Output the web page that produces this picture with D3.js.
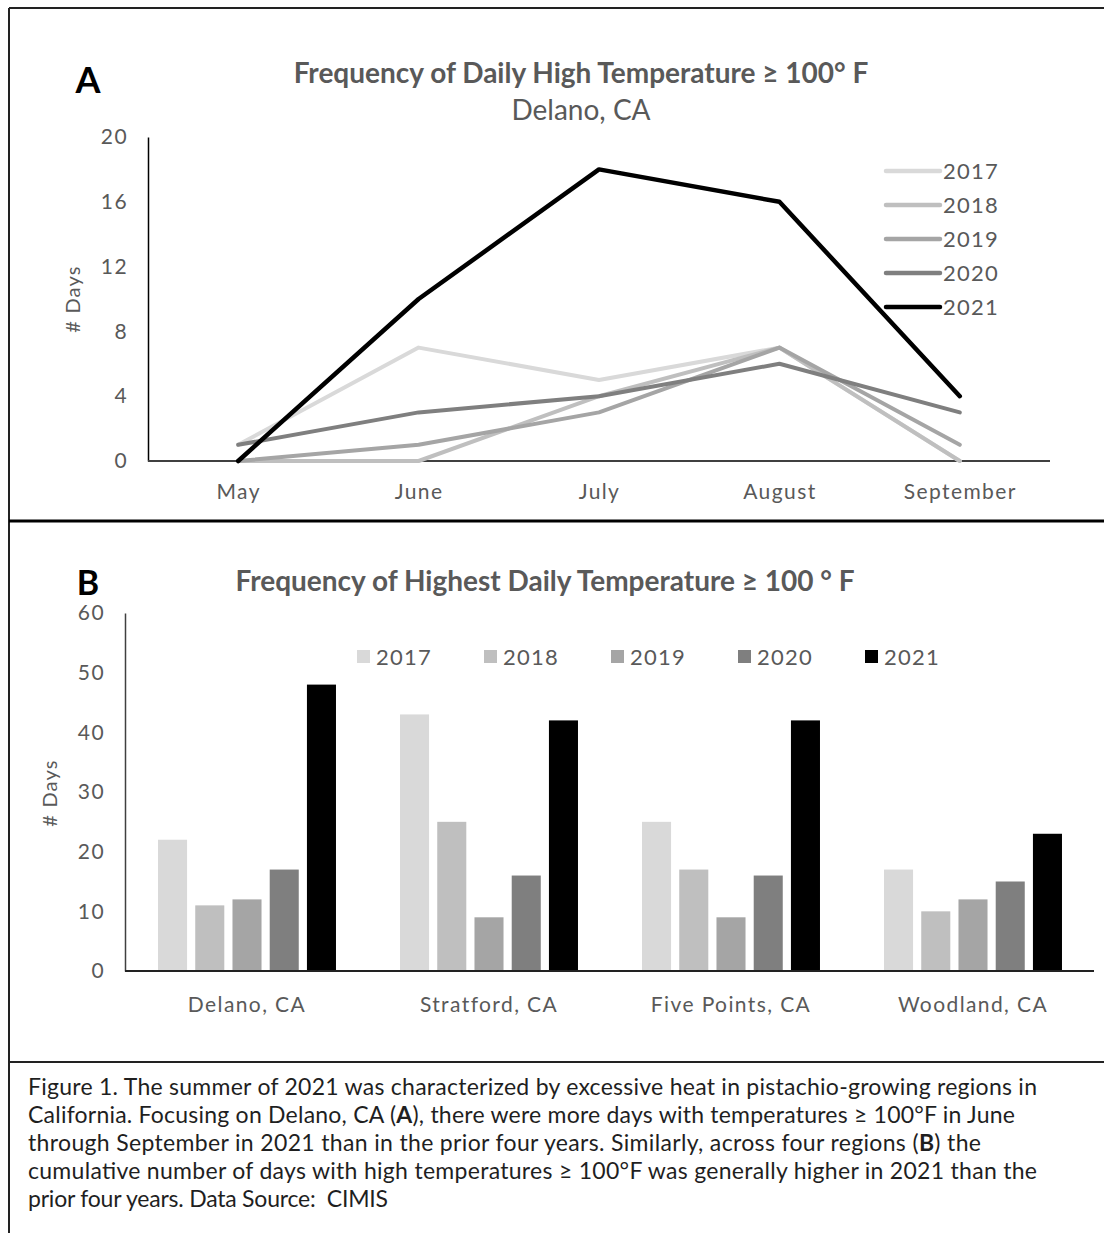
<!DOCTYPE html>
<html>
<head>
<meta charset="utf-8">
<script src="https://cdn.jsdelivr.net/npm/d3@7"></script>
<style>
  body { margin: 0; background: #fff; }
  svg { display: block; font-family: Lato, "Open Sans", sans-serif; }
  .tick text { fill: #595959; letter-spacing: 1.4px; }
  .cap text { white-space: pre; }
</style>
</head>
<body>
<svg width="1104" height="1233"></svg>
<script>
// panel A: days >= 100F per month, Delano
let months = ['May', 'June', 'July', 'August', 'September'];
let years = ['2017', '2018', '2019', '2020', '2021'];
let monthly = {
    '2017': [1, 7, 5, 7, 0],
    '2018': [0, 0, 4, 7, 0],
    '2019': [0, 1, 3, 7, 1],
    '2020': [1, 3, 4, 6, 3],
    '2021': [0, 10, 18, 16, 4]
};

// panel B: cumulative days per region
let regions = ['Delano, CA', 'Stratford, CA', 'Five Points, CA', 'Woodland, CA'];
let totals = {
    '2017': [22, 43, 25, 17],
    '2018': [11, 25, 17, 10],
    '2019': [12, 9, 9, 12],
    '2020': [17, 16, 16, 15],
    '2021': [48, 42, 42, 23]
};

let yTicksA = [0, 4, 8, 12, 16, 20];
let yTicksB = [0, 10, 20, 30, 40, 50, 60];

let caption = [
    ['Figure 1. The summer of 2021 was characterized by excessive heat in pistachio-growing regions in'],
    ['California. Focusing on Delano, CA (', 'A', '), there were more days with temperatures \u2265 100\u00b0F in June'],
    ['through September in 2021 than in the prior four years. Similarly, across four regions (', 'B', ') the'],
    ['cumulative number of days with high temperatures \u2265 100\u00b0F was generally higher in 2021 than the'],
    ['prior four years. Data Source:  CIMIS']
];
let captionWidths = [1009, 987, 953, 1009, 360];

let color = d3.scaleOrdinal()
    .domain(years)
    .range(['#d9d9d9', '#bfbfbf', '#a5a5a5', '#7f7f7f', '#000000']);

let svg = d3.select('svg');

// frame
let frame = svg.append('g').attr('stroke', '#222').attr('fill', 'none');
frame.append('line').attr('x1', 9).attr('x2', 9).attr('y1', 8).attr('y2', 1233).attr('stroke-width', 2);
frame.append('line').attr('x1', 9).attr('x2', 1104).attr('y1', 8).attr('y2', 8).attr('stroke-width', 2);
frame.append('line').attr('x1', 9).attr('x2', 1104).attr('y1', 521).attr('y2', 521).attr('stroke-width', 3).attr('stroke', '#000');
frame.append('line').attr('x1', 9).attr('x2', 1104).attr('y1', 1062).attr('y2', 1062).attr('stroke-width', 2);

// ---------- panel A ----------
let gA = svg.append('g');

let xA = d3.scalePoint().domain(months).range([148, 1050]).padding(0.5);
let yA = d3.scaleLinear().domain([0, 20]).range([461, 137]);

gA.append('text').attr('x', 88).attr('y', 93)
    .attr('text-anchor', 'middle').attr('font-size', 36).attr('font-weight', 'bold')
    .text('A');
gA.append('text').attr('x', 581).attr('y', 83)
    .attr('text-anchor', 'middle').attr('font-size', 28).attr('font-weight', 'bold').attr('fill', '#595959')
    .text('Frequency of Daily High Temperature \u2265 100\u00b0 F');
gA.append('text').attr('x', 581).attr('y', 120)
    .attr('text-anchor', 'middle').attr('font-size', 28).attr('fill', '#595959')
    .text('Delano, CA');

gA.append('g')
    .attr('transform', 'translate(148,0)')
    .call(d3.axisLeft(yA).tickValues(yTicksA).tickSize(0).tickPadding(20))
    .attr('font-family', null)
    .call(g => g.select('.domain').attr('stroke', '#000').attr('stroke-width', 1.5))
    .call(g => g.selectAll('text').attr('font-size', 21));

gA.append('g')
    .attr('transform', 'translate(0,461)')
    .call(d3.axisBottom(xA).tickSize(0).tickPadding(23))
    .attr('font-family', null)
    .call(g => g.select('.domain').attr('d', 'M148,0H1050').attr('stroke', '#404040').attr('stroke-width', 2))
    .call(g => g.selectAll('text').attr('font-size', 21));

gA.append('text')
    .attr('transform', 'translate(80,299) rotate(-90)')
    .attr('text-anchor', 'middle').attr('font-size', 20).attr('letter-spacing', 1.2).attr('fill', '#595959')
    .text('# Days');

let line = d3.line()
    .x((d, i) => xA(months[i]))
    .y(d => yA(d));

gA.append('g').selectAll('path')
    .data(years)
    .join('path')
    .attr('d', yr => line(monthly[yr]))
    .attr('fill', 'none')
    .attr('stroke', yr => color(yr))
    .attr('stroke-width', yr => yr === '2021' ? 4.5 : 4)
    .attr('stroke-linejoin', 'round')
    .attr('stroke-linecap', 'round');

let legA = gA.append('g').selectAll('g')
    .data(years)
    .join('g')
    .attr('transform', (yr, i) => `translate(886,${171 + i * 34})`);
legA.append('line')
    .attr('x1', 0).attr('x2', 54)
    .attr('stroke', yr => color(yr))
    .attr('stroke-width', 4.5)
    .attr('stroke-linecap', 'round');
legA.append('text')
    .attr('x', 57).attr('dy', '0.35em')
    .attr('font-size', 22).attr('letter-spacing', 1.2).attr('fill', '#595959')
    .text(yr => yr);

// ---------- panel B ----------
let gB = svg.append('g');

let xB = d3.scaleBand().domain(regions).range([126, 1094]);
let xYear = d3.scaleBand().domain(years).range([0, xB.bandwidth()])
    .paddingInner(0.22).paddingOuter(0.86);
let yB = d3.scaleLinear().domain([0, 60]).range([971, 613]);

gB.append('text').attr('x', 88).attr('y', 595)
    .attr('text-anchor', 'middle').attr('font-size', 34).attr('font-weight', 'bold')
    .text('B');
gB.append('text').attr('x', 545).attr('y', 591)
    .attr('text-anchor', 'middle').attr('font-size', 28).attr('font-weight', 'bold').attr('fill', '#595959')
    .text('Frequency of Highest Daily Temperature \u2265 100 \u00b0 F');

gB.append('g')
    .attr('transform', 'translate(125,0)')
    .call(d3.axisLeft(yB).tickValues(yTicksB).tickSize(0).tickPadding(20))
    .attr('font-family', null)
    .call(g => g.select('.domain').attr('stroke', '#404040').attr('stroke-width', 1.5))
    .call(g => g.selectAll('text').attr('font-size', 21));

gB.append('text')
    .attr('transform', 'translate(57,793) rotate(-90)')
    .attr('text-anchor', 'middle').attr('font-size', 20).attr('letter-spacing', 1.2).attr('fill', '#595959')
    .text('# Days');

let groups = gB.append('g').selectAll('g')
    .data(regions)
    .join('g')
    .attr('transform', r => `translate(${xB(r)},0)`);

groups.selectAll('rect')
    .data((r, ri) => years.map(yr => ({ yr: yr, v: totals[yr][ri] })))
    .join('rect')
    .attr('x', d => xYear(d.yr))
    .attr('width', xYear.bandwidth())
    .attr('y', d => yB(d.v))
    .attr('height', d => yB(0) - yB(d.v))
    .attr('fill', d => color(d.yr));

gB.append('g')
    .attr('transform', 'translate(0,971)')
    .call(d3.axisBottom(xB).tickSize(0).tickPadding(26))
    .attr('font-family', null)
    .call(g => g.select('.domain').attr('d', 'M125,0H1094').attr('stroke', '#222').attr('stroke-width', 2))
    .call(g => g.selectAll('text').attr('font-size', 21));

let legB = gB.append('g').selectAll('g')
    .data(years)
    .join('g')
    .attr('transform', (yr, i) => `translate(${357 + i * 127},657)`);
legB.append('rect')
    .attr('x', 0).attr('y', -7).attr('width', 13).attr('height', 13)
    .attr('fill', yr => color(yr));
legB.append('text')
    .attr('x', 19).attr('dy', '0.35em')
    .attr('font-size', 22).attr('letter-spacing', 1.2).attr('fill', '#595959')
    .text(yr => yr);

// ---------- caption ----------
let cap = svg.append('g').attr('class', 'cap').attr('font-size', 23).attr('fill', '#1f1f1f');
cap.selectAll('text')
    .data(caption)
    .join('text')
    .attr('x', 28)
    .attr('y', (d, i) => 1095 + i * 28)
    .attr('textLength', (d, i) => captionWidths[i])
    .attr('lengthAdjust', 'spacing')
    .selectAll('tspan')
    .data(d => d)
    .join('tspan')
    .attr('font-weight', (d, i) => i === 1 ? 'bold' : null)
    .text(d => d);
</script>
</body>
</html>
